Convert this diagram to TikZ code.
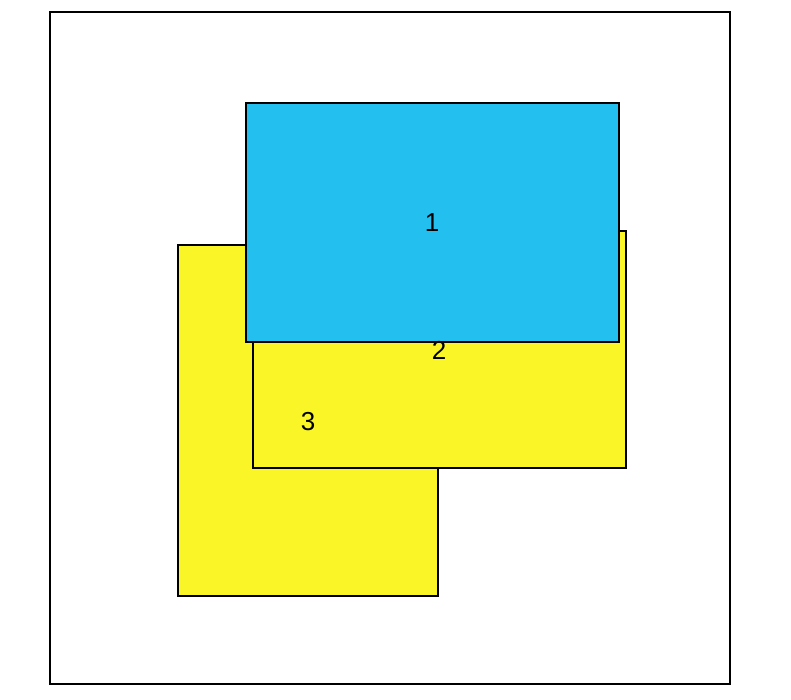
\documentclass[tikz,border=0pt]{standalone}
\usepackage{fontspec}
\setmainfont{Liberation Sans}
\definecolor{skyb}{HTML}{22BFEF}
\definecolor{yel}{HTML}{FAF526}
\begin{document}
\begin{tikzpicture}[x=1pt,y=-1pt,
  box/.style={draw=black,line width=1.3pt},
  lbl/.style={font=\fontsize{26}{28}\selectfont,inner sep=0pt}]
\useasboundingbox (0,0) rectangle (791,700);
\draw[line width=2pt] (50,12) rectangle (730,684);
\filldraw[box,fill=yel] (178,245) rectangle (438,596);
\filldraw[box,fill=yel] (253,231) rectangle (626,468);
\filldraw[box,fill=skyb] (246,103) rectangle (619,342);
\node[lbl] (l1) at (432,223) {1};
\node[lbl] (l2) at (439,350) {2};
\node[lbl] (l3) at (308,422) {3};
\end{tikzpicture}
\end{document}
